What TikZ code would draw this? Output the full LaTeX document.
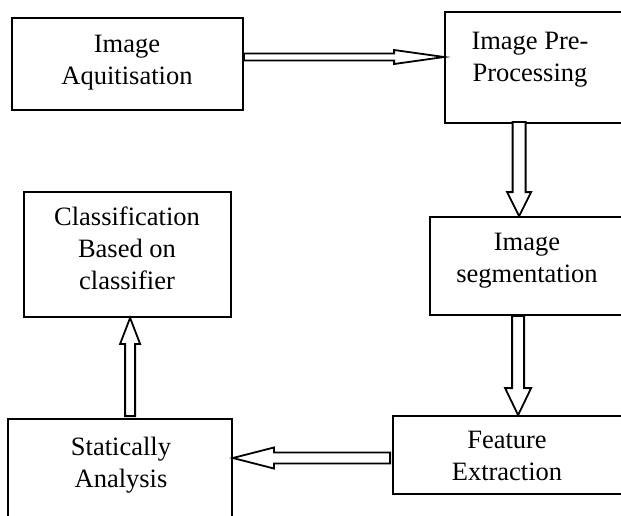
\documentclass[tikz,border=0pt]{standalone}
\usepackage{fontspec}
\setmainfont{Liberation Serif}
\usetikzlibrary{calc}
\tikzset{
  boxnode/.style={draw=black, line width=1.8pt, rectangle, inner sep=0pt},
  txt/.style={align=center, inner sep=0pt, font=\fontsize{26.5}{32}\selectfont},
  blk/.style={draw=black, fill=white, line width=1.8pt, line join=miter},
}
% #1 start, #2 tip, #3 shaft half width, #4 head half width, #5 head length
\newcommand\myblockarrow[5]{%
  \coordinate (hb) at ($(#2)!#5!(#1)$);
  \draw[blk] ($(#1)!#3!90:(#2)$) -- ($(hb)!#3!-90:(#1)$) -- ($(hb)!#4!-90:(#1)$)
    -- (#2) -- ($(hb)!#4!90:(#1)$) -- ($(hb)!#3!90:(#1)$) -- ($(#1)!#3!-90:(#2)$) -- cycle;
}
\begin{document}
\begin{tikzpicture}[x=1pt,y=-1pt]
\useasboundingbox (0,0) rectangle (621,515);
\clip (0,0) rectangle (621,515);
% boxes
\node[boxnode, minimum width=231pt, minimum height=92pt] (n1) at (127.5,64) {};
\node[boxnode, minimum width=205pt, minimum height=111pt] (n2) at (547.5,67.5) {};
\node[boxnode, minimum width=220pt, minimum height=98pt] (n3) at (540,266) {};
\node[boxnode, minimum width=257pt, minimum height=78pt] (n4) at (521.5,455) {};
\node[boxnode, minimum width=224pt, minimum height=121pt] (n5) at (120,479.5) {};
\node[boxnode, minimum width=207pt, minimum height=125pt] (n6) at (127.5,254.5) {};
% texts (anchor base = baseline of last line)
\node[txt, anchor=base] (t1) at (127,84) {Image\\Aquitisation};
\node[txt, anchor=base] (t2) at (530,81) {Image Pre-\\Processing};
\node[txt, anchor=base] (t3) at (527,282) {Image\\segmentation};
\node[txt, anchor=base] (t4) at (507,480) {Feature\\Extraction};
\node[txt, anchor=base] (t5) at (121,487) {Statically\\Analysis};
\node[txt, anchor=base] (t6) at (127,289) {Classification\\Based on\\classifier};
% arrows
\coordinate (a1s) at ($(n1.east)+(0,-7)$);
\coordinate (a1e) at (a1s -| n2.west);
\myblockarrow{a1s}{a1e}{3.5pt}{7pt}{50pt}
\path (n2.south west) ++(75,-2) coordinate (a2s);
\coordinate (a2e) at (a2s |- n3.north);
\myblockarrow{a2s}{a2e}{6.5pt}{12pt}{24pt}
\path (n3.south west) ++(89,0) coordinate (a3s);
\coordinate (a3e) at (a3s |- n4.north);
\myblockarrow{a3s}{a3e}{6pt}{13pt}{27pt}
\coordinate (a4s) at ($(n4.west)+(-2,3)$);
\coordinate (a4e) at (a4s -| n5.east);
\myblockarrow{a4s}{a4e}{5.5pt}{10.5pt}{41pt}
\path (n5.north west) ++(123,-2) coordinate (a5s);
\coordinate (a5e) at (a5s |- n6.south);
\myblockarrow{a5s}{a5e}{5pt}{10pt}{26pt}
\end{tikzpicture}
\end{document}
